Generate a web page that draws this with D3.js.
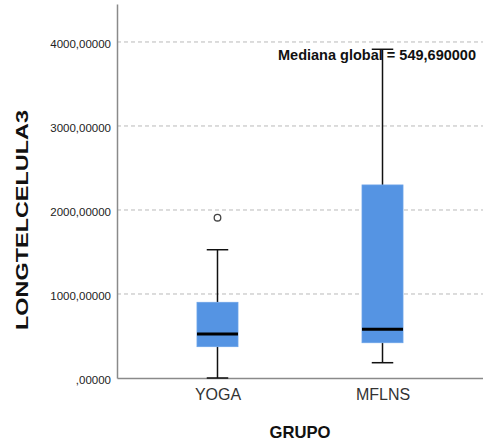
<!DOCTYPE html>
<html>
<head>
<meta charset="utf-8">
<script src="https://cdn.jsdelivr.net/npm/d3@7"></script>
<style>
  html, body { margin: 0; padding: 0; background: #fff; }
  svg { display: block; font-family: "Liberation Sans", Arial, sans-serif; }
</style>
</head>
<body>
<svg id="chart" width="483" height="441"></svg>
<script>
// Groups and their box-plot summaries
const groups      = ["YOGA", "MFLNS"];
const whiskerLow  = [0, 182];
const q1          = [373, 420];
const median      = [524, 580];
const q3          = [901, 2298];
const whiskerHigh = [1527, 3913];
const outliers    = [[1908], []];

const yTicks      = [0, 1000, 2000, 3000, 4000];
const globalMedian = 549.69;

const yTitle = "LONGTELCELULA3";
const xTitle = "GRUPO";

const svg = d3.select("#chart");
const plotLeft = 117, plotRight = 483, plotTop = 4, plotBottom = 378;

const y = d3.scaleLinear().domain([0, 4452]).range([plotBottom, plotTop]);
const x = d3.scalePoint().domain(groups).range([plotLeft, plotRight]).padding(0.609);

const fmt = v => (v === 0 ? "" : String(v)) + ",00000";

// Dashed gridlines
svg.append("g")
  .selectAll("line")
  .data(yTicks.filter(t => t > 0))
  .join("line")
  .attr("x1", plotLeft).attr("x2", plotRight)
  .attr("y1", d => y(d)).attr("y2", d => y(d))
  .attr("stroke", "#b9b9b9")
  .attr("stroke-width", 1)
  .attr("stroke-dasharray", "4,3");

// Global median annotation (boxes are drawn over it)
svg.append("text")
  .attr("x", 476).attr("y", 60)
  .attr("text-anchor", "end")
  .attr("font-size", "15.5px")
  .attr("font-weight", "bold")
  .attr("fill", "#111")
  .attr("textLength", 198)
  .attr("lengthAdjust", "spacingAndGlyphs")
  .text("Mediana global = " + d3.format(".6f")(globalMedian).replace(".", ","));

// Y axis
const yAxis = svg.append("g")
  .attr("transform", `translate(${plotLeft},0)`)
  .call(d3.axisLeft(y).tickValues(yTicks).tickFormat(fmt).tickSize(0).tickPadding(6));
yAxis.select(".domain").attr("stroke", "#8a8a8a").attr("stroke-width", 1.5);
yAxis.selectAll("text")
  .attr("font-size", "11.5px")
  .attr("fill", "#222")
  .attr("dy", "0.5em");

// X axis
const xAxis = svg.append("g")
  .attr("transform", `translate(0,${plotBottom})`)
  .call(d3.axisBottom(x).tickSize(0).tickPadding(11));
xAxis.select(".domain").attr("stroke", "#8a8a8a").attr("stroke-width", 1.5);
xAxis.selectAll("text")
  .attr("font-size", "16px")
  .attr("fill", "#333")
  .attr("dy", "0.71em");

// Boxes
const boxW = 41, capW = 21.5;
const data = groups.map((g, i) => ({
  g, lo: whiskerLow[i], q1: q1[i], med: median[i], q3: q3[i], hi: whiskerHigh[i], out: outliers[i]
}));

const box = svg.append("g").selectAll("g").data(data).join("g");

// whisker stems
box.append("line")
  .attr("x1", d => x(d.g)).attr("x2", d => x(d.g))
  .attr("y1", d => y(d.hi)).attr("y2", d => y(d.q3))
  .attr("stroke", "#111").attr("stroke-width", 1.5);
box.append("line")
  .attr("x1", d => x(d.g)).attr("x2", d => x(d.g))
  .attr("y1", d => y(d.q1)).attr("y2", d => y(d.lo))
  .attr("stroke", "#111").attr("stroke-width", 1.5);
// caps
box.selectAll(".cap")
  .data(d => [d.lo, d.hi].map(v => ({ g: d.g, v })))
  .join("line")
  .attr("class", "cap")
  .attr("x1", d => x(d.g) - capW / 2).attr("x2", d => x(d.g) + capW / 2)
  .attr("y1", d => y(d.v)).attr("y2", d => y(d.v))
  .attr("stroke", "#111").attr("stroke-width", 1.5);
// box body
box.append("rect")
  .attr("x", d => x(d.g) - boxW / 2)
  .attr("width", boxW)
  .attr("y", d => y(d.q3))
  .attr("height", d => y(d.q1) - y(d.q3))
  .attr("fill", "#5594e3")
  .attr("stroke", "#6aa3e8")
  .attr("stroke-width", 0.8);
// median
box.append("line")
  .attr("x1", d => x(d.g) - boxW / 2).attr("x2", d => x(d.g) + boxW / 2)
  .attr("y1", d => y(d.med)).attr("y2", d => y(d.med))
  .attr("stroke", "#000").attr("stroke-width", 3);
// outliers
box.selectAll(".out")
  .data(d => d.out.map(v => ({ g: d.g, v })))
  .join("circle")
  .attr("class", "out")
  .attr("cx", d => x(d.g)).attr("cy", d => y(d.v))
  .attr("r", 3.3)
  .attr("fill", "#fff")
  .attr("stroke", "#444")
  .attr("stroke-width", 1.3);

// Axis titles
svg.append("text")
  .attr("transform", "translate(28,220) rotate(-90)")
  .attr("text-anchor", "middle")
  .attr("font-size", "16px")
  .attr("font-weight", "bold")
  .attr("fill", "#111")
  .attr("textLength", 220)
  .attr("lengthAdjust", "spacingAndGlyphs")
  .text(yTitle);

svg.append("text")
  .attr("x", 300).attr("y", 438)
  .attr("text-anchor", "middle")
  .attr("font-size", "17px")
  .attr("font-weight", "bold")
  .attr("fill", "#111")
  .attr("textLength", 61)
  .attr("lengthAdjust", "spacingAndGlyphs")
  .text(xTitle);
</script>
</body>
</html>
